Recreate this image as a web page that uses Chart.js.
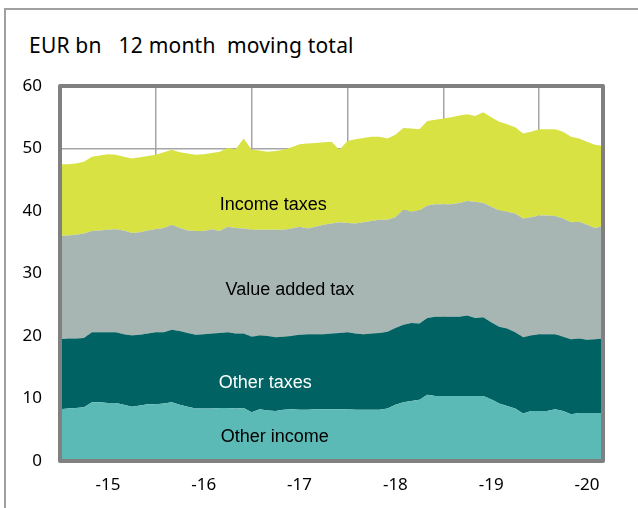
<!DOCTYPE html>
<html>
<head>
<meta charset="utf-8">
<script src="https://cdn.jsdelivr.net/npm/chart.js@4"></script>
<style>
  html, body { margin: 0; padding: 0; background: #fff; }
  #wrap { position: relative; width: 638px; height: 508px; overflow: hidden; }
  #frame { position: absolute; left: 4px; top: 8px; width: 700px; height: 600px;
           border-top: 2px solid #a0a0a0; border-left: 2px solid #a0a0a0; }
  #unit { position: absolute; left: 29px; top: 31px; font: 21px 'Noto Sans', sans-serif; color: #000;
          white-space: pre; letter-spacing: 0.2px; }
  #chartBox { position: absolute; left: 0; top: 0; width: 638px; height: 508px; }
</style>
</head>
<body>
<div id="wrap">
  <div id="frame"></div>
  <div id="unit">EUR bn   12 month  moving total</div>
  <div id="chartBox"><canvas id="taxChart"></canvas></div>
</div>
<script>
// monthly, Jan 2015 .. Sep 2020, EUR bn (12 month moving total)
const yearLabels = ['-15', '-16', '-17', '-18', '-19', '-20'];

const otherIncome = [
  8.3, 8.4, 8.5, 8.6, 9.4, 9.4, 9.3, 9.3, 9.0, 8.7, 8.9, 9.1,
  9.1, 9.2, 9.4, 9.0, 8.7, 8.4, 8.4, 8.4, 8.5, 8.5, 8.4, 8.5,
  7.8, 8.3, 8.1, 8.0, 8.2, 8.3, 8.2, 8.2, 8.3, 8.3, 8.3, 8.3,
  8.3, 8.2, 8.2, 8.2, 8.2, 8.4, 9.0, 9.4, 9.6, 9.8, 10.6, 10.4,
  10.4, 10.4, 10.4, 10.4, 10.4, 10.4, 9.9, 9.2, 8.8, 8.4, 7.6, 8.0,
  8.0, 8.0, 8.3, 8.0, 7.5, 7.7, 7.7, 7.7, 7.7
];
const otherTaxes = [
  11.2, 11.2, 11.1, 11.1, 11.2, 11.2, 11.3, 11.3, 11.3, 11.4, 11.3, 11.3,
  11.5, 11.4, 11.6, 11.8, 11.8, 11.8, 11.9, 12.0, 12.0, 12.1, 12.0, 11.9,
  12.1, 11.8, 11.9, 11.8, 11.7, 11.7, 12.0, 12.1, 12.0, 12.0, 12.1, 12.2,
  12.3, 12.2, 12.1, 12.2, 12.3, 12.3, 12.3, 12.4, 12.5, 12.2, 12.3, 12.7,
  12.7, 12.7, 12.7, 12.9, 12.5, 12.6, 12.3, 12.3, 12.4, 12.2, 12.2, 12.1,
  12.3, 12.3, 12.0, 11.9, 12.0, 11.9, 11.7, 11.8, 11.9
];
const valueAddedTax = [
  16.5, 16.5, 16.6, 16.7, 16.2, 16.3, 16.4, 16.5, 16.6, 16.4, 16.4, 16.5,
  16.5, 16.7, 16.8, 16.5, 16.4, 16.6, 16.5, 16.7, 16.3, 16.9, 16.9, 16.8,
  17.1, 16.9, 17.0, 17.2, 17.1, 17.2, 17.3, 16.9, 17.2, 17.5, 17.6, 17.7,
  17.5, 17.6, 17.9, 18.0, 18.1, 17.9, 17.7, 18.4, 17.8, 18.1, 18.0, 18.0,
  18.0, 18.0, 18.2, 18.3, 18.6, 18.3, 18.5, 18.6, 18.7, 19.0, 19.0, 18.9,
  19.0, 19.0, 18.9, 18.9, 18.7, 18.7, 18.4, 17.8, 18.0
];
const incomeTaxes = [
  11.5, 11.4, 11.4, 11.5, 11.9, 12.0, 12.1, 11.9, 11.8, 11.9, 12.0, 11.9,
  11.9, 12.1, 12.0, 12.1, 12.3, 12.2, 12.3, 12.2, 12.7, 12.6, 12.6, 14.4,
  12.8, 12.7, 12.5, 12.6, 12.8, 13.0, 13.2, 13.6, 13.4, 13.2, 13.1, 11.6,
  13.1, 13.5, 13.5, 13.5, 13.3, 13.0, 13.2, 13.1, 13.3, 13.0, 13.5, 13.5,
  13.7, 13.9, 14.0, 13.9, 13.7, 14.5, 14.3, 14.2, 14.0, 13.8, 13.6, 13.7,
  13.8, 13.8, 13.9, 13.9, 13.7, 13.3, 13.3, 13.3, 12.8
];

// month categories, year label placed on July of each year
const months = [];
for (let i = 0; i < otherIncome.length; i++) {
  months.push(yearLabels[Math.floor(i / 12)] + '/' + (i % 12 + 1));
}

// in-chart series names: [text, month index, value, colour]
const areaLabels = [
  ['Income taxes', 26.7, 41.0, '#000000'],
  ['Value added tax', 28.8, 27.4, '#000000'],
  ['Other taxes', 25.7, 12.5, '#ffffff'],
  ['Other income', 26.9, 3.8, '#000000']
];

const labelPlugin = {
  id: 'areaLabels',
  afterDatasetsDraw(chart) {
    const ctx = chart.ctx;
    const xs = chart.scales.x, ys = chart.scales.y;
    ctx.save();
    ctx.font = '18px "Liberation Sans", Arial, sans-serif';
    ctx.textAlign = 'center';
    ctx.textBaseline = 'middle';
    areaLabels.forEach(l => {
      ctx.fillStyle = l[3];
      ctx.fillText(l[0], xs.getPixelForValue(l[1]), ys.getPixelForValue(l[2]));
    });
    // plot frame
    const a = chart.chartArea;
    ctx.lineWidth = 4;
    ctx.strokeStyle = '#808080';
    ctx.lineJoin = 'round';
    ctx.strokeRect(a.left, a.top, a.right - a.left, a.bottom - a.top);
    ctx.restore();
  }
};

function area(label, data, color, fill) {
  return {
    label: label,
    data: data,
    backgroundColor: color,
    borderWidth: 0,
    pointRadius: 0,
    fill: fill,
    tension: 0
  };
}

new Chart(document.getElementById('taxChart'), {
  type: 'line',
  data: {
    labels: months,
    datasets: [
      area('Other income', otherIncome, '#5bbab5', 'origin'),
      area('Other taxes', otherTaxes, '#006262', '-1'),
      area('Value added tax', valueAddedTax, '#a7b6b2', '-1'),
      area('Income taxes', incomeTaxes, '#d8e243', '-1')
    ]
  },
  options: {
    responsive: true,
    maintainAspectRatio: false,
    animation: false,
    layout: { padding: { left: 0, top: 86, right: 35, bottom: 0 } },
    plugins: {
      legend: { display: false },
      tooltip: { enabled: false }
    },
    scales: {
      x: {
        type: 'category',
        offset: false,
        border: { display: false },
        grid: {
          drawTicks: false,
          lineWidth: 1.5,
          color: ctx => (ctx.index % 12 === 0 ? '#a6a6a6' : 'rgba(0,0,0,0)')
        },
        ticks: {
          autoSkip: false,
          maxRotation: 0,
          padding: 14,
          color: '#000',
          font: { family: 'Noto Sans', size: 17 },
          callback: (v, i) => (i % 12 === 6 ? yearLabels[Math.floor(i / 12)] : '')
        },
        afterFit: s => { s.height = 47; }
      },
      y: {
        stacked: true,
        min: 0,
        max: 60,
        border: { display: false },
        grid: { drawTicks: false, lineWidth: 1.5, color: '#a6a6a6' },
        ticks: {
          stepSize: 10,
          padding: 18,
          color: '#000',
          font: { family: 'Noto Sans', size: 17 }
        },
        afterFit: s => { s.width = 60; }
      }
    }
  },
  plugins: [labelPlugin]
});
</script>
</body>
</html>
